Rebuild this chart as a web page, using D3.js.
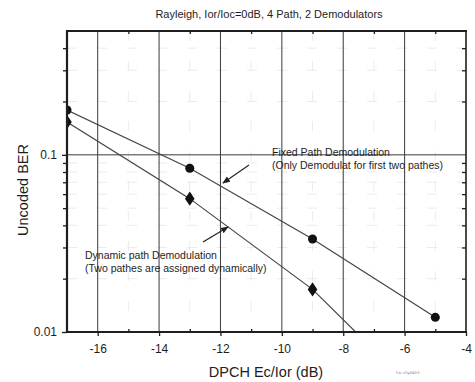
<!DOCTYPE html>
<html>
<head>
<meta charset="utf-8">
<script src="https://cdn.jsdelivr.net/npm/d3@7"></script>
<style>
  html, body { margin: 0; padding: 0; background: #fff; }
  svg { display: block; font-family: "Liberation Sans", Arial, sans-serif; }
</style>
</head>
<body>
<svg id="chart" width="475" height="382"></svg>
<script>
// Ec/Ior operating points (dB)
const ecIor = [-17, -13, -9, -5];
// Uncoded BER, fixed path demodulation (first two paths only)
const fixedBer = [0.179, 0.084, 0.0335, 0.0121];
// Uncoded BER, dynamic path demodulation (last point falls below the plotted range)
const dynamicBer = [0.153, 0.0566, 0.0174, 0.0036];

const xMajorTicks = [-16, -14, -12, -10, -8, -6, -4];
const xMinorTicks = [-15, -13, -11, -9, -7, -5];
const yMajorTicks = [0.01, 0.1];
const yMinorTicks = [0.02, 0.03, 0.04, 0.05, 0.06, 0.07, 0.08, 0.09, 0.2, 0.3, 0.4];
const yTickLabels = ["0.01", "0.1"];

const title = "Rayleigh, Ior/Ioc=0dB, 4 Path, 2 Demodulators";
const xTitle = "DPCH Ec/Ior (dB)";
const yTitle = "Uncoded BER";

const svg = d3.select("#chart");
const L = 67, R = 466, T = 31, B = 332;

const x = d3.scaleLinear().domain([-17, -4]).range([L, R]);
const y = d3.scaleLog().domain([0.01, 0.5]).range([B, T]);

const ink = "#1e1e1e";

// faint dashed minor grid
const grid = svg.append("g");
grid.selectAll("line.mx").data(xMinorTicks).join("line")
  .attr("x1", d => x(d)).attr("x2", d => x(d)).attr("y1", T).attr("y2", B)
  .attr("stroke", "#ebebeb").attr("stroke-width", 1).attr("stroke-dasharray", "10,20");
grid.selectAll("line.my").data(yMinorTicks).join("line")
  .attr("x1", L).attr("x2", R).attr("y1", d => y(d)).attr("y2", d => y(d))
  .attr("stroke", "#ebebeb").attr("stroke-width", 1).attr("stroke-dasharray", "10,20");

// major grid
grid.selectAll("line.gx").data(xMajorTicks.filter(d => d > -17 && d < -4)).join("line")
  .attr("x1", d => x(d)).attr("x2", d => x(d)).attr("y1", T).attr("y2", B)
  .attr("stroke", "#3a3a3a").attr("stroke-width", 1);
grid.selectAll("line.gy").data([0.1]).join("line")
  .attr("x1", L).attr("x2", R).attr("y1", d => y(d)).attr("y2", d => y(d))
  .attr("stroke", "#3a3a3a").attr("stroke-width", 1);

// axes
const fmtX = d => String(d);
svg.append("g").attr("transform", `translate(0,${B})`)
  .call(d3.axisBottom(x).tickValues(xMajorTicks).tickSizeInner(4).tickSizeOuter(0).tickPadding(8).tickFormat(fmtX));
svg.append("g").attr("transform", `translate(0,${B})`)
  .call(d3.axisBottom(x).tickValues(xMinorTicks).tickSizeInner(-3).tickSizeOuter(0).tickFormat(""));
svg.append("g").attr("transform", `translate(0,${T})`)
  .call(d3.axisTop(x).tickValues(xMinorTicks).tickSizeInner(-3).tickSizeOuter(0).tickFormat(""));

svg.append("g").attr("transform", `translate(${L},0)`)
  .call(d3.axisLeft(y).tickValues(yMajorTicks).tickSizeInner(5).tickSizeOuter(0).tickPadding(5)
    .tickFormat((d, i) => yTickLabels[i]));
svg.append("g").attr("transform", `translate(${L},0)`)
  .call(d3.axisLeft(y).tickValues(yMinorTicks).tickSizeInner(4).tickSizeOuter(0).tickFormat(""));
svg.append("g").attr("transform", `translate(${R},0)`)
  .call(d3.axisRight(y).tickValues(yMinorTicks).tickSizeInner(-4).tickSizeOuter(0).tickFormat(""));

svg.selectAll(".domain").remove();
svg.selectAll(".tick line").attr("stroke", ink).attr("stroke-width", 1.3);
svg.selectAll(".tick text").attr("fill", ink).style("font-size", "12px")
  .style("font-family", "'Liberation Sans', Arial, sans-serif");

// data lines and markers, clipped to the plot frame
svg.append("clipPath").attr("id", "plot").append("rect")
  .attr("x", L).attr("y", T).attr("width", R - L).attr("height", B - T);
const plot = svg.append("g").attr("clip-path", "url(#plot)");

const line = d3.line().x(d => x(d[0])).y(d => y(d[1]));
const fixedPts = ecIor.map((e, i) => [e, fixedBer[i]]);
const dynPts = ecIor.map((e, i) => [e, dynamicBer[i]]);

plot.append("path").datum(fixedPts).attr("d", line)
  .attr("fill", "none").attr("stroke", "#444").attr("stroke-width", 1.2);
plot.append("path").datum(dynPts).attr("d", line)
  .attr("fill", "none").attr("stroke", "#444").attr("stroke-width", 1.2);

plot.selectAll("path.circ").data(fixedPts).join("path")
  .attr("d", d3.symbol(d3.symbolCircle, 64))
  .attr("transform", d => `translate(${x(d[0])},${y(d[1])})`)
  .attr("fill", "#111");
plot.selectAll("path.diam").data(dynPts.filter(d => d[1] >= 0.01)).join("path")
  .attr("d", d3.symbol(d3.symbolDiamond, 60))
  .attr("transform", d => `translate(${x(d[0])},${y(d[1])}) scale(1.15,1)`)
  .attr("fill", "#111");

// frame
svg.append("line").attr("x1", L).attr("x2", L).attr("y1", T - 1).attr("y2", B + 1)
  .attr("stroke", ink).attr("stroke-width", 2.2);
svg.append("line").attr("x1", L - 1).attr("x2", R + 1).attr("y1", B).attr("y2", B)
  .attr("stroke", ink).attr("stroke-width", 2.2);
svg.append("line").attr("x1", L - 1).attr("x2", R + 1).attr("y1", T).attr("y2", T)
  .attr("stroke", ink).attr("stroke-width", 2);
svg.append("line").attr("x1", R).attr("x2", R).attr("y1", T).attr("y2", B)
  .attr("stroke", ink).attr("stroke-width", 1.6);

// titles
svg.append("text").attr("x", 269).attr("y", 18).attr("text-anchor", "middle")
  .style("font-size", "11px").attr("fill", ink).text(title);
svg.append("text").attr("x", 266).attr("y", 377).attr("text-anchor", "middle")
  .style("font-size", "14.5px").attr("fill", ink).text(xTitle);
svg.append("text").attr("transform", "translate(28,190) rotate(-90)").attr("text-anchor", "middle")
  .style("font-size", "14.5px").attr("fill", ink).text(yTitle);

// annotations with pointer arrows
svg.append("defs").append("marker").attr("id", "head")
  .attr("viewBox", "0 0 10 10").attr("refX", 9).attr("refY", 5)
  .attr("markerWidth", 7).attr("markerHeight", 7).attr("orient", "auto")
  .append("path").attr("d", "M0,1 L10,5 L0,9 Z").attr("fill", ink);

const note = svg.append("g").style("font-size", "10.5px").attr("fill", ink);
note.append("text").attr("x", 272).attr("y", 156).text("Fixed Path Demodulation");
note.append("text").attr("x", 272).attr("y", 169).text("(Only Demodulat for first two pathes)");
note.append("text").attr("x", 85).attr("y", 259).text("Dynamic path Demodulation");
note.append("text").attr("x", 85).attr("y", 272).text("(Two pathes are assigned dynamically)");

svg.append("line").attr("x1", 249).attr("y1", 165).attr("x2", 223).attr("y2", 183)
  .attr("stroke", ink).attr("stroke-width", 1.1).attr("marker-end", "url(#head)");
svg.append("line").attr("x1", 203).attr("y1", 242).attr("x2", 228).attr("y2", 227)
  .attr("stroke", ink).attr("stroke-width", 1.1).attr("marker-end", "url(#head)");

// file tag
svg.append("text").attr("x", 396).attr("y", 374).style("font-size", "4px")
  .attr("fill", "#888").text("f.w. n5y4d2r1");
</script>
</body>
</html>
